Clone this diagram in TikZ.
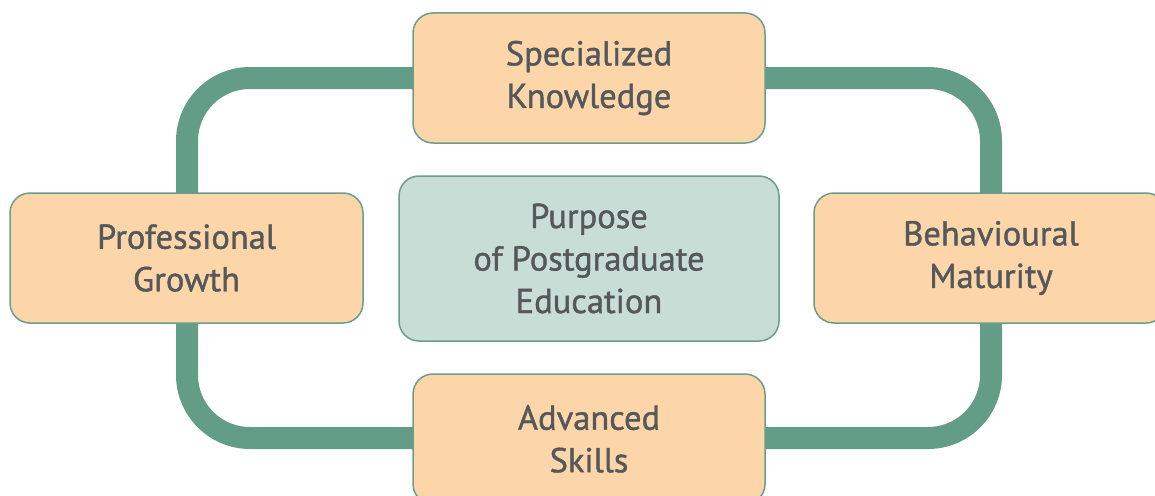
\documentclass[tikz,border=0pt]{standalone}
\usepackage{fontspec}
\setmainfont{PT Sans}[FakeBold=0.8]
\newfontfamily\lblfont{PT Sans}[FakeBold=1.2]
\definecolor{loopc}{HTML}{639C87}
\definecolor{boxfill}{HTML}{FCD6A8}
\definecolor{boxline}{HTML}{6A9E8A}
\definecolor{cfill}{HTML}{C8DDD6}
\definecolor{txt}{HTML}{55585A}
\tikzset{
  lbl/.style={text=txt, align=center, font=\lblfont\fontsize{34.5}{42.5}\selectfont, inner sep=0pt},
  box/.style={draw=boxline, line width=1.5pt, fill=boxfill, rounded corners=20pt, lbl},
  cbox/.style={box, fill=cfill},
  ring/.style={draw=loopc, line width=22pt, rounded corners=63pt}
}
\begin{document}
\begin{tikzpicture}[x=1pt,y=-1pt]
\useasboundingbox (0,0) rectangle (1155,495);
\clip (0,0) rectangle (1155,495);
\coordinate (r1) at (187,78);
\coordinate (r2) at (991,78);
\coordinate (r3) at (991,438);
\coordinate (r4) at (187,438);
\draw[ring] (r1) -- (r2) -- (r3) -- (r4) -- cycle;
\node[box, minimum width=352pt, minimum height=130pt] (top) at (589,78) {Specialized\\Knowledge};
\node[box, minimum width=353pt, minimum height=130pt] (left) at (186.5,258) {Professional\\Growth};
\node[box, minimum width=352pt, minimum height=130pt] (right) at (990,258) {};
\node[lbl] (rightt) at (991,258) {Behavioural\\Maturity};
\node[box, minimum width=352pt, minimum height=130pt] (bot) at (589,439) {};
\node[lbl, anchor=north] (bott) at (589,405) {Advanced\\Skills};
\node[cbox, minimum width=380pt, minimum height=165pt] (mid) at (589,258.5) {Purpose\\of Postgraduate\\Education};
\end{tikzpicture}
\end{document}
